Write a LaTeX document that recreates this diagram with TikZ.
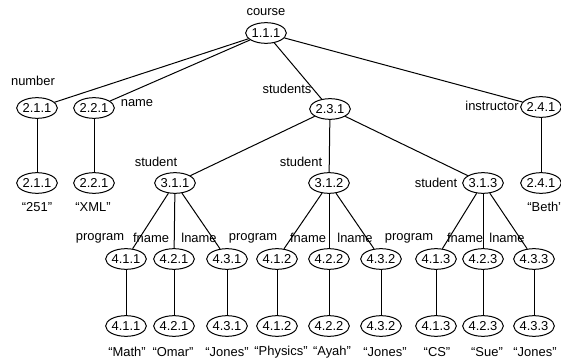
\documentclass[tikz,border=0pt]{standalone}
\usepackage{fontspec}
\setmainfont{Liberation Sans}
\usetikzlibrary{shapes.geometric}

\begin{document}
\begin{tikzpicture}[x=0.75pt,y=-0.75pt,line width=0.75pt,
  el/.style={draw,ellipse,inner sep=0pt,minimum width=30pt,minimum height=15.5pt,font=\fontsize{9.7}{10}\selectfont},
  lbl/.style={inner sep=0pt,font=\fontsize{9.7}{11}\selectfont}]
\useasboundingbox (0,0) rectangle (561,364);

\node[lbl] (lcourse) at (266,12) {course};
\node[el] (c111) at (266,33) {1.1.1};

\node[lbl] (lnumber) at (33,81) {number};
\node[el] (n211) at (37,108) {2.1.1};
\node[el] (n221) at (94,108) {2.2.1};
\node[lbl] (lname) at (137,103) {name};
\node[lbl] (lstudents) at (287,89) {students};
\node[el] (n231) at (330,109) {2.3.1};
\node[lbl] (linstr) at (492,106) {instructor};
\node[el] (n241) at (541,107) {2.4.1};

\node[el] (v211) at (37,183) {2.1.1};
\node[lbl] (t211) at (37,207) {“251”};
\node[el] (v221) at (94,183) {2.2.1};
\node[lbl] (t221) at (93,207) {“XML”};
\node[el] (v241) at (541,183) {2.4.1};
\node[lbl] (t241) at (545,207) {“Beth”};

\node[lbl] (lst1) at (156,162) {student};
\node[el] (n311) at (175,183) {3.1.1};
\node[lbl] (lst2) at (301,162) {student};
\node[el] (n312) at (329,183) {3.1.2};
\node[lbl] (lst3) at (436,183) {student};
\node[el] (n313) at (483,183) {3.1.3};

\node[lbl] (lp1) at (100,238) {program};
\node[lbl] (lf1) at (151,238) {fname};
\node[lbl] (ll1) at (199,238) {lname};
\node[lbl] (lp2) at (253,238) {program};
\node[lbl] (lf2) at (308,238) {fname};
\node[lbl] (ll2) at (355,238) {lname};
\node[lbl] (lp3) at (409,238) {program};
\node[lbl] (lf3) at (465,238) {fname};
\node[lbl] (ll3) at (507,238) {lname};

\node[el] (n411) at (126,259) {4.1.1};
\node[el] (n421) at (174,259) {4.2.1};
\node[el] (n431) at (227,259) {4.3.1};
\node[el] (n412) at (277,259) {4.1.2};
\node[el] (n422) at (329,259) {4.2.2};
\node[el] (n432) at (381,259) {4.3.2};
\node[el] (n413) at (436,259) {4.1.3};
\node[el] (n423) at (483,259) {4.2.3};
\node[el] (n433) at (534,259) {4.3.3};

\node[el] (v411) at (126,326) {4.1.1};
\node[el] (v421) at (174,326) {4.2.1};
\node[el] (v431) at (227,326) {4.3.1};
\node[el] (v412) at (277,326) {4.1.2};
\node[el] (v422) at (329,326) {4.2.2};
\node[el] (v432) at (381,326) {4.3.2};
\node[el] (v413) at (436,326) {4.1.3};
\node[el] (v423) at (483,326) {4.2.3};
\node[el] (v433) at (534,326) {4.3.3};

\node[lbl] (t411) at (127,352) {“Math”};
\node[lbl] (t421) at (173,352) {“Omar”};
\node[lbl] (t431) at (227,352) {“Jones”};
\node[lbl] (t412) at (281,352) {“Physics”};
\node[lbl] (t422) at (332,352) {“Ayah”};
\node[lbl] (t432) at (385,352) {“Jones”};
\node[lbl] (t413) at (437,352) {“CS”};
\node[lbl] (t423) at (487,352) {“Sue”};
\node[lbl] (t433) at (535,352) {“Jones”};

\draw (c111) -- (n211);
\draw (c111) -- (n221);
\draw (c111) -- (n231);
\draw (c111) -- (n241);

\draw (n211) -- (v211);
\draw (n221) -- (v221);
\draw (n241) -- (v241);

\draw (n231) -- (n311);
\draw (n231) -- (n312);
\draw (n231) -- (n313);

\draw (n311) -- (n411);
\draw (n311) -- (n421);
\draw (n311) -- (n431);
\draw (n312) -- (n412);
\draw (n312) -- (n422);
\draw (n312) -- (n432);
\draw (n313) -- (n413);
\draw (n313) -- (n423);
\draw (n313) -- (n433);

\draw (n411) -- (v411);
\draw (n421) -- (v421);
\draw (n431) -- (v431);
\draw (n412) -- (v412);
\draw (n422) -- (v422);
\draw (n432) -- (v432);
\draw (n413) -- (v413);
\draw (n423) -- (v423);
\draw (n433) -- (v433);
\end{tikzpicture}
\end{document}
